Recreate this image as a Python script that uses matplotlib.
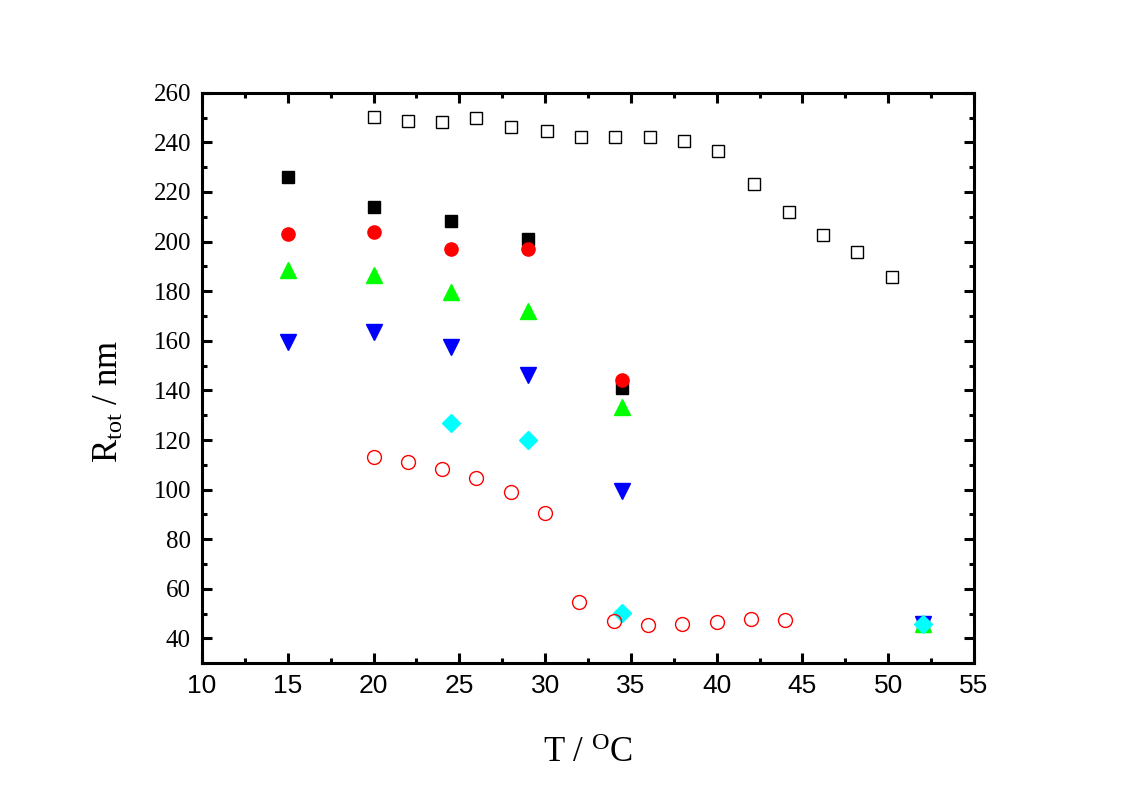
import matplotlib
matplotlib.use("Agg")
import matplotlib.pyplot as plt
from matplotlib.ticker import MultipleLocator

plt.rcParams['font.family'] = 'Liberation Serif'
plt.rcParams['mathtext.fontset'] = 'custom'
plt.rcParams['mathtext.rm'] = 'Liberation Serif'
plt.rcParams['mathtext.it'] = 'Liberation Serif:italic'

# filled series share the same temperatures
t_filled = [15, 20, 24.5, 29, 34.5, 52]
black_sq = [225.9, 214.0, 208.4, 201.0, 141.0, 46.0]
red_circ = [203.0, 204.0, 197.0, 197.0, 144.2, 46.0]
green_up = [188.5, 186.5, 179.6, 172.1, 133.4, 46.0]
blue_down = [159.4, 163.4, 157.3, 146.2, 99.4, 46.0]

t_cyan = [24.5, 29, 34.5, 52]
cyan_dia = [126.9, 120.0, 50.1, 46.0]

# open squares
t_open_sq = [20.0, 22.0, 24.0, 26.0, 28.0, 30.1, 32.1, 34.1, 36.1, 38.1,
             40.1, 42.2, 44.2, 46.2, 48.2, 50.2]
open_sq = [250.3, 248.5, 248.1, 249.7, 246.0, 244.7, 242.0, 242.3, 242.0, 240.4,
           236.6, 223.2, 211.9, 202.5, 195.9, 185.6]

# open circles
t_open_circ = [20.0, 22.0, 24.0, 26.0, 28.0, 30.0, 32.0, 34.0, 36.0, 38.0, 40.0, 42.0, 44.0]
open_circ = [113.0, 111.0, 108.3, 104.5, 99.1, 90.4, 54.5, 47.0, 45.5, 45.8, 46.7, 47.8, 47.4]

fig = plt.figure(figsize=(11.31, 7.95), dpi=100)
ax = fig.add_axes([0.1786, 0.1657, 0.6826, 0.7177])

ax.plot(t_filled, black_sq, 's', color='black', ms=9, ls='none')
ax.plot(t_filled, red_circ, 'o', color='red', ms=9.5, ls='none')
ax.plot(t_filled, green_up, '^', color='#00ff00', ms=11, ls='none')
ax.plot(t_filled, blue_down, 'v', color='blue', ms=11, ls='none')
ax.plot(t_cyan, cyan_dia, 'D', color='cyan', ms=9.5, ls='none')
ax.plot(t_open_sq, open_sq, 's', mfc='none', mec='black', mew=1.0, ms=9, ls='none')
ax.plot(t_open_circ, open_circ, 'o', mfc='none', mec='red', mew=1.0, ms=10, ls='none')

ax.set_xlim(10, 55)
ax.set_ylim(30, 260)
ax.xaxis.set_major_locator(MultipleLocator(5))
ax.xaxis.set_minor_locator(MultipleLocator(2.5))
ax.yaxis.set_major_locator(MultipleLocator(20))
ax.yaxis.set_minor_locator(MultipleLocator(10))

for s in ax.spines.values():
    s.set_linewidth(2.2)
ax.tick_params(which='both', direction='in', top=True, right=True, width=2.2)
ax.tick_params(which='major', length=7)
ax.tick_params(which='minor', length=3.8)
ax.tick_params(axis='y', labelsize=18, pad=8)
ax.tick_params(axis='x', labelsize=19, pad=8)
for lab in ax.get_xticklabels():
    lab.set_family('Liberation Sans')

ax.set_xlabel('T / $^{\\rm O}$C', fontsize=25, labelpad=28)
ax.set_ylabel('R$_{\\rm tot}$ / nm', fontsize=25)
ax.yaxis.set_label_coords(-0.098, 0.458)

fig.savefig('out.png', dpi=100)
